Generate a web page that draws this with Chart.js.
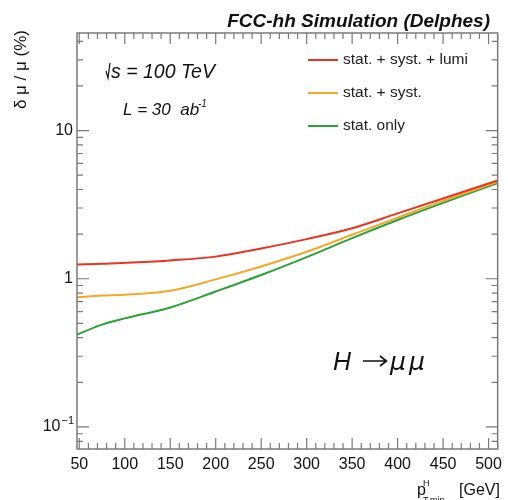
<!DOCTYPE html>
<html>
<head>
<meta charset="utf-8">
<script src="https://cdn.jsdelivr.net/npm/chart.js@4.4.1/dist/chart.umd.min.js"></script>
<style>
  html, body { margin: 0; padding: 0; background: #fff; }
  #wrap { width: 508px; height: 500px; }
</style>
</head>
<body>
<div id="wrap"><canvas id="grafico"></canvas></div>
<script>
// corte em pT minimo do Higgs (GeV)
var ptMin = [47.5, 75, 100, 150, 200, 250, 300, 350, 400, 450, 510];
// incerteza relativa em mu (%)
var statSystLumi = [1.25, 1.26, 1.28, 1.33, 1.41, 1.60, 1.85, 2.19, 2.76, 3.48, 4.60];
var statSyst     = [0.75, 0.77, 0.78, 0.83, 0.99, 1.21, 1.52, 1.98, 2.58, 3.35, 4.50];
var statOnly     = [0.42, 0.49, 0.54, 0.64, 0.82, 1.06, 1.40, 1.88, 2.49, 3.25, 4.42];

var nomes = ['stat. + syst. + lumi', 'stat. + syst.', 'stat. only'];
var cores = ['#ea3323', '#f5a62b', '#2aa236'];

var xTicks = [50, 100, 150, 200, 250, 300, 350, 400, 450, 500];
var yTicks = [0.1, 1, 10];

var FONTE = '"Liberation Sans", Arial, Helvetica, sans-serif';
var CINZA = '#7a7a7a';

function pontos(vals) {
  return ptMin.map(function (x, i) { return { x: x, y: vals[i] }; });
}

function serie(i, vals) {
  return {
    label: nomes[i],
    data: pontos(vals),
    borderColor: cores[i],
    backgroundColor: cores[i],
    borderWidth: 2,
    pointRadius: 0,
    cubicInterpolationMode: 'monotone',
    fill: false
  };
}

// moldura estilo ROOT: caixa, ticks nos quatro lados, legenda e textos
var moldura = {
  id: 'moldura',
  afterDraw: function (chart) {
    var ctx = chart.ctx;
    var a = chart.chartArea;
    var sx = chart.scales.x, sy = chart.scales.y;
    ctx.save();
    ctx.strokeStyle = CINZA;
    ctx.lineWidth = 1.5;
    ctx.strokeRect(a.left, a.top, a.right - a.left, a.bottom - a.top);

    ctx.lineWidth = 1.2;
    ctx.beginPath();
    // ticks do eixo x (baixo e cima)
    for (var v = 50; v <= 510; v += 10) {
      var px = sx.getPixelForValue(v);
      var len = (v % 50 === 0) ? 11 : 6;
      ctx.moveTo(px, a.bottom); ctx.lineTo(px, a.bottom - len);
      ctx.moveTo(px, a.top); ctx.lineTo(px, a.top + len);
    }
    // ticks do eixo y log (esquerda e direita)
    for (var e = -2; e <= 1; e++) {
      for (var k = 1; k <= 9; k++) {
        var val = k * Math.pow(10, e);
        if (val < sy.min || val > sy.max) continue;
        var py = sy.getPixelForValue(val);
        var l = (k === 1) ? 12 : 6;
        ctx.moveTo(a.left, py); ctx.lineTo(a.left + l, py);
        ctx.moveTo(a.right, py); ctx.lineTo(a.right - l, py);
      }
    }
    ctx.stroke();

    // rotulos do eixo y
    ctx.fillStyle = '#111';
    ctx.textBaseline = 'middle';
    ctx.textAlign = 'right';
    ctx.font = '16px ' + FONTE;
    yTicks.forEach(function (t) {
      var py = sy.getPixelForValue(t);
      if (t < 1) {
        ctx.font = '11px ' + FONTE;
        ctx.fillText('\u22121', 74, py - 6);
        var w = ctx.measureText('\u22121').width;
        ctx.font = '16px ' + FONTE;
        ctx.fillText('10', 74 - w - 1, py);
      } else {
        ctx.fillText(String(t), 73, py);
      }
    });

    // legenda
    ctx.textAlign = 'left';
    ctx.font = '15.5px ' + FONTE;
    chart.data.datasets.forEach(function (ds, i) {
      var ly = 60 + i * 33;
      ctx.strokeStyle = ds.borderColor;
      ctx.lineWidth = 2;
      ctx.beginPath();
      ctx.moveTo(308, ly); ctx.lineTo(338, ly);
      ctx.stroke();
      ctx.fillStyle = '#222';
      ctx.fillText(ds.label, 343, ly);
    });

    // titulo
    ctx.textBaseline = 'alphabetic';
    ctx.textAlign = 'right';
    ctx.fillStyle = '#111';
    ctx.font = 'italic bold 19px ' + FONTE;
    ctx.fillText('FCC-hh Simulation (Delphes)', 490, 27);

    // textos dentro do grafico
    ctx.textAlign = 'left';
    ctx.strokeStyle = '#111';
    ctx.lineWidth = 1.2;
    ctx.beginPath();
    ctx.moveTo(106, 71); ctx.lineTo(108, 78); ctx.lineTo(110, 63);
    ctx.stroke();
    ctx.font = 'italic 19.5px ' + FONTE;
    ctx.fillText('s = 100 TeV', 111, 78);
    ctx.font = 'italic 17px ' + FONTE;
    ctx.fillText('L = 30  ab', 123, 115);
    ctx.font = 'italic 10px ' + FONTE;
    ctx.fillText('-1', 198, 107);

    // H -> mu mu (seta desenhada com linhas, fina como a do ROOT)
    ctx.font = 'italic 25px ' + FONTE;
    ctx.fillText('H', 333, 370);
    ctx.lineWidth = 1.6;
    ctx.beginPath();
    ctx.moveTo(363, 361); ctx.lineTo(386, 361);
    ctx.moveTo(380, 356); ctx.lineTo(386.5, 361); ctx.lineTo(380, 366);
    ctx.stroke();
    ctx.font = 'italic 25px "DejaVu Sans", ' + FONTE;
    ctx.fillText('\u03BC', 390, 370);
    ctx.fillText('\u03BC', 409, 370);

    // titulo do eixo x
    ctx.font = '16px ' + FONTE;
    ctx.fillText('p', 417, 495);
    ctx.fillText('[GeV]', 459, 495);
    ctx.font = '9px ' + FONTE;
    ctx.fillText('H', 423, 486);
    ctx.fillText('T,min', 423, 503);

    // titulo do eixo y
    ctx.translate(26, 30);
    ctx.rotate(-Math.PI / 2);
    ctx.textAlign = 'right';
    ctx.font = '17px ' + FONTE;
    ctx.fillText('\u03B4 \u03BC / \u03BC (%)', 0, 0);
    ctx.restore();
  }
};

var ctx = document.getElementById('grafico').getContext('2d');
var grafico = new Chart(ctx, {
  type: 'line',
  data: {
    datasets: [serie(0, statSystLumi), serie(1, statSyst), serie(2, statOnly)]
  },
  options: {
    responsive: true,
    maintainAspectRatio: false,
    animation: false,
    layout: { padding: { top: 33, right: 4, left: 0, bottom: 0 } },
    plugins: {
      legend: { display: false },
      tooltip: { enabled: false }
    },
    scales: {
      x: {
        type: 'linear',
        min: 47.5,
        max: 510,
        grid: { display: false, drawTicks: false },
        border: { display: false },
        afterBuildTicks: function (scale) {
          scale.ticks = xTicks.map(function (v) { return { value: v }; });
        },
        afterFit: function (scale) { scale.height = 51; },
        ticks: {
          color: '#111',
          padding: 6,
          maxRotation: 0,
          autoSkip: false,
          font: { family: FONTE, size: 16 }
        }
      },
      y: {
        type: 'logarithmic',
        min: 0.071,
        max: 45.5,
        grid: { display: false },
        border: { display: false },
        afterFit: function (scale) { scale.width = 77; },
        ticks: { display: false }
      }
    }
  },
  plugins: [moldura]
});
</script>
</body>
</html>
